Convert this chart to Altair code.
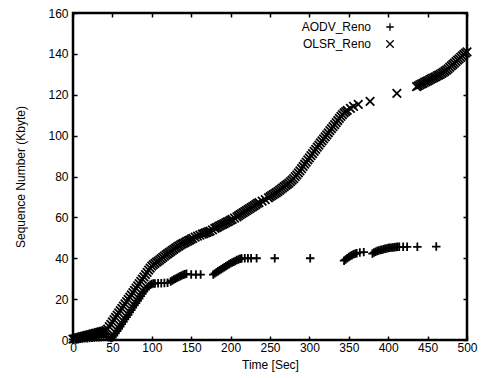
import altair as alt
import pandas as pd

series_names = ["AODV_Reno", "OLSR_Reno"]
x_ticks = [0, 50, 100, 150, 200, 250, 300, 350, 400, 450, 500]
y_ticks = [0, 20, 40, 60, 80, 100, 120, 140, 160]

aodv_t = [0, 3, 6, 9, 12, 15, 18, 21, 24, 27, 30, 33, 36, 39, 42, 45, 48, 50,
          52, 54, 56, 58, 60, 62, 64, 66, 68, 70, 72, 74, 76, 78, 80, 82, 84, 86, 88, 90,
          92, 94, 96, 98, 100, 102, 104,
          108, 112, 116, 120, 124, 126, 128, 130, 132, 134, 136, 138, 140, 142, 144,
          150, 156, 162,
          178, 180, 182, 184, 186, 188, 190, 192, 194, 196, 198, 200, 202, 204, 206, 208,
          210, 212, 214, 218, 222, 226, 233, 256, 301,
          344, 346, 348, 350, 352, 354, 356, 358, 360, 364, 369,
          380, 382, 384, 386, 388, 390, 392, 394, 396, 398, 400, 402, 404, 406, 408, 410,
          412, 414, 419, 424, 437, 461]
aodv_v = [0.3, 0.4, 0.5, 0.6, 0.7, 0.8, 0.9, 1.0, 1.1, 1.2, 1.3, 1.4, 1.5, 1.6, 1.6, 1.4, 1.0, 1.2,
          2.1, 3.2, 4.4, 5.5, 6.6, 7.8, 8.9, 10.1, 11.2, 12.3, 13.5, 14.6, 15.8, 16.9, 18.0, 19.2, 20.3, 21.5, 22.6, 23.7,
          24.7, 25.6, 26.4, 27.0, 27.4, 27.6, 27.7,
          27.8, 27.8, 27.9, 28.0, 28.6, 29.1, 29.6, 30.0, 30.4, 30.8, 31.2, 31.6, 31.9, 32.2, 32.4,
          32.0, 32.0, 32.0,
          32.0, 32.6, 33.1, 33.6, 34.1, 34.6, 35.1, 35.6, 36.1, 36.6, 37.1, 37.5, 37.9, 38.3, 38.7, 39.1,
          39.4, 39.7, 39.9, 40.0, 40.0, 40.0, 40.0, 40.0, 40.0,
          38.8, 39.4, 40.0, 40.6, 41.1, 41.5, 41.9, 42.2, 42.5, 42.8, 43.0,
          42.3, 42.8, 43.2, 43.5, 43.8, 44.0, 44.2, 44.4, 44.6, 44.8, 45.0, 45.1, 45.2, 45.3, 45.4, 45.5,
          45.6, 45.6, 45.6, 45.6, 45.6, 45.7]

olsr_t = [0, 2, 4, 6, 8, 10, 12, 14, 16, 18, 20, 22, 24, 26, 28, 30, 32, 34, 36, 38, 40, 42,
          44, 46, 48, 50, 52, 54, 56, 58, 60, 62, 64, 66, 68, 70, 72, 74, 76, 78, 80, 82, 84, 86,
          88, 90, 92, 94, 96, 98, 100, 102,
          104, 106, 108, 110, 112, 114, 116, 118, 120, 122, 124, 126, 128, 130, 132, 134, 136, 138,
          140, 142, 144, 146, 148, 150, 152, 155, 158, 161, 164, 166, 168, 170, 172, 174, 177,
          180, 182, 184, 186, 188, 190, 192, 194, 196, 198, 200, 202, 205,
          208, 210, 212, 214, 216, 218, 220, 222, 224, 226, 228, 230, 232, 234, 236, 240, 244,
          248, 250, 252, 254, 256, 258, 260, 262, 264, 266, 268, 270, 272, 274, 276, 278, 280,
          282, 284, 286, 288, 290, 292, 294, 296, 298, 300, 302, 304, 306, 308, 310, 312, 314,
          316, 318, 320, 322, 324, 326, 328, 330, 332, 334, 336, 338, 340, 342, 344, 346, 348,
          352, 356, 362, 377, 411,
          436, 438, 440, 442, 444, 446, 448, 450, 452, 454, 456, 458, 460, 462, 464, 466, 468,
          470, 472, 474, 476, 478, 480, 482, 484, 486, 488, 490, 492, 494, 496, 498, 500]
olsr_v = [0.4, 0.6, 0.8, 1.0, 1.2, 1.4, 1.6, 1.8, 2.0, 2.2, 2.4, 2.6, 2.8, 3.0, 3.2, 3.4, 3.6, 3.8, 4.0, 4.2, 4.4, 4.7,
          5.3, 6.5, 7.7, 8.9, 10.0, 11.1, 12.2, 13.3, 14.4, 15.5, 16.6, 17.7, 18.8, 19.9, 21.0, 22.1, 23.2, 24.3, 25.4, 26.5, 27.6, 28.7,
          29.8, 30.9, 32.0, 33.1, 34.2, 35.2, 36.1, 36.9,
          37.5, 38.1, 38.6, 39.2, 39.8, 40.4, 41.0, 41.6, 42.2, 42.8, 43.3, 43.9, 44.4, 44.9, 45.4, 45.9, 46.4, 46.9,
          47.3, 47.7, 48.1, 48.5, 48.9, 49.3, 49.7, 50.3, 50.8, 51.3, 51.8, 52.1, 52.4, 52.7, 53.0, 53.3, 53.9,
          54.6, 55.0, 55.4, 55.8, 56.2, 56.6, 57.0, 57.4, 57.8, 58.2, 58.6, 59.0, 59.6,
          60.3, 60.8, 61.3, 61.8, 62.3, 62.8, 63.3, 63.8, 64.3, 64.8, 65.3, 65.8, 66.3, 66.8, 67.2, 67.9, 68.7,
          69.6, 70.1, 70.6, 71.1, 71.6, 72.1, 72.6, 73.2, 73.8, 74.4, 75.0, 75.6, 76.2, 76.8, 77.5, 78.2, 79.0,
          79.9, 80.8, 81.8, 82.8, 83.9, 84.9, 86.0, 87.0, 88.1, 89.1, 90.2, 91.2, 92.3, 93.3, 94.4, 95.4, 96.4,
          97.4, 98.4, 99.4, 100.4, 101.4, 102.4, 103.4, 104.4, 105.4, 106.4, 107.4, 108.4, 109.4, 110.3, 111.1, 111.8, 112.3,
          113.3, 114.3, 115.3, 116.8, 120.7,
          124.0, 124.4, 124.8, 125.2, 125.6, 126.0, 126.4, 126.8, 127.2, 127.6, 128.0, 128.4, 128.8, 129.2, 129.6, 130.0, 130.5,
          131.0, 131.5, 132.1, 132.7, 133.4, 134.1, 134.8, 135.5, 136.2, 136.9, 137.6, 138.3, 139.0, 139.7, 140.4, 141.0]

df = pd.concat([
    pd.DataFrame({"t": aodv_t, "v": aodv_v, "series": series_names[0]}),
    pd.DataFrame({"t": olsr_t, "v": olsr_v, "series": series_names[1]}),
], ignore_index=True)

W, H = 394, 327
FONT = "Liberation Sans"
FS = 12
PLUS = "M-1,0L1,0M0,-1L0,1"
CROSS = "M-1,-1L1,1M-1,1L1,-1"

x_scale = alt.Scale(domain=[0, 500], nice=False, zero=False)
y_scale = alt.Scale(domain=[0, 160], nice=False, zero=False)

base = alt.Chart(df)

points = base.mark_point(filled=False, size=72, strokeWidth=1.8, color="black", opacity=1).encode(
    x=alt.X("t:Q", scale=x_scale,
            axis=alt.Axis(orient="bottom", values=x_ticks, ticks=False, tickSize=0, domain=False,
                          grid=False, labelFlush=False, labelPadding=2,
                          title="Time [Sec]", titlePadding=6)),
    y=alt.Y("v:Q", scale=y_scale,
            axis=alt.Axis(orient="left", values=y_ticks, ticks=False, tickSize=0, domain=False,
                          grid=False, labelFlush=False, labelPadding=5,
                          title="Sequence Number (Kbyte)", titlePadding=20)),
    shape=alt.Shape("series:N", scale=alt.Scale(domain=series_names, range=[PLUS, CROSS]),
                    legend=alt.Legend(title=None, orient="none", legendX=311, legendY=8,
                                      labelAlign="right", labelOffset={"expr": "-25"}, padding=0,
                                      rowPadding=3, symbolStrokeColor="black",
                                      symbolStrokeWidth=1.3, symbolSize=56,
                                      labelFont=FONT, labelFontSize=FS, labelColor="black")),
)

ticks_a = base.mark_point(opacity=0).encode(
    x=alt.X("t:Q", scale=x_scale,
            axis=alt.Axis(orient="top", offset=-H, values=x_ticks, labels=False, domain=False,
                          grid=False, ticks=True, tickSize=4, tickWidth=1.5, tickColor="black",
                          title=None)),
    y=alt.Y("v:Q", scale=y_scale,
            axis=alt.Axis(orient="right", offset=-W, values=y_ticks, labels=False, domain=False,
                          grid=False, ticks=True, tickSize=4, tickWidth=1.5, tickColor="black",
                          title=None)),
)

ticks_b = base.mark_point(opacity=0).encode(
    x=alt.X("t:Q", scale=x_scale,
            axis=alt.Axis(orient="bottom", offset=-H, values=x_ticks, labels=False, domain=False,
                          grid=False, ticks=True, tickSize=4, tickWidth=1.5, tickColor="black",
                          title=None)),
    y=alt.Y("v:Q", scale=y_scale,
            axis=alt.Axis(orient="left", offset=-W, values=y_ticks, labels=False, domain=False,
                          grid=False, ticks=True, tickSize=4, tickWidth=1.5, tickColor="black",
                          title=None)),
)

chart = alt.layer(points, ticks_a, ticks_b).resolve_axis(
    x="independent", y="independent"
).properties(
    width=W, height=H,
    autosize=alt.AutoSizeParams(type="none"),
    padding={"left": 73, "top": 13, "right": 16, "bottom": 38},
    background="white",
).configure_view(
    stroke="black", strokeWidth=2.5
).configure_axis(
    labelFont=FONT, labelFontSize=FS, labelColor="black",
    titleFont=FONT, titleFontSize=FS, titleColor="black", titleFontWeight="normal",
)

chart.save("out.html", embed_options={"renderer": "svg", "actions": False})
